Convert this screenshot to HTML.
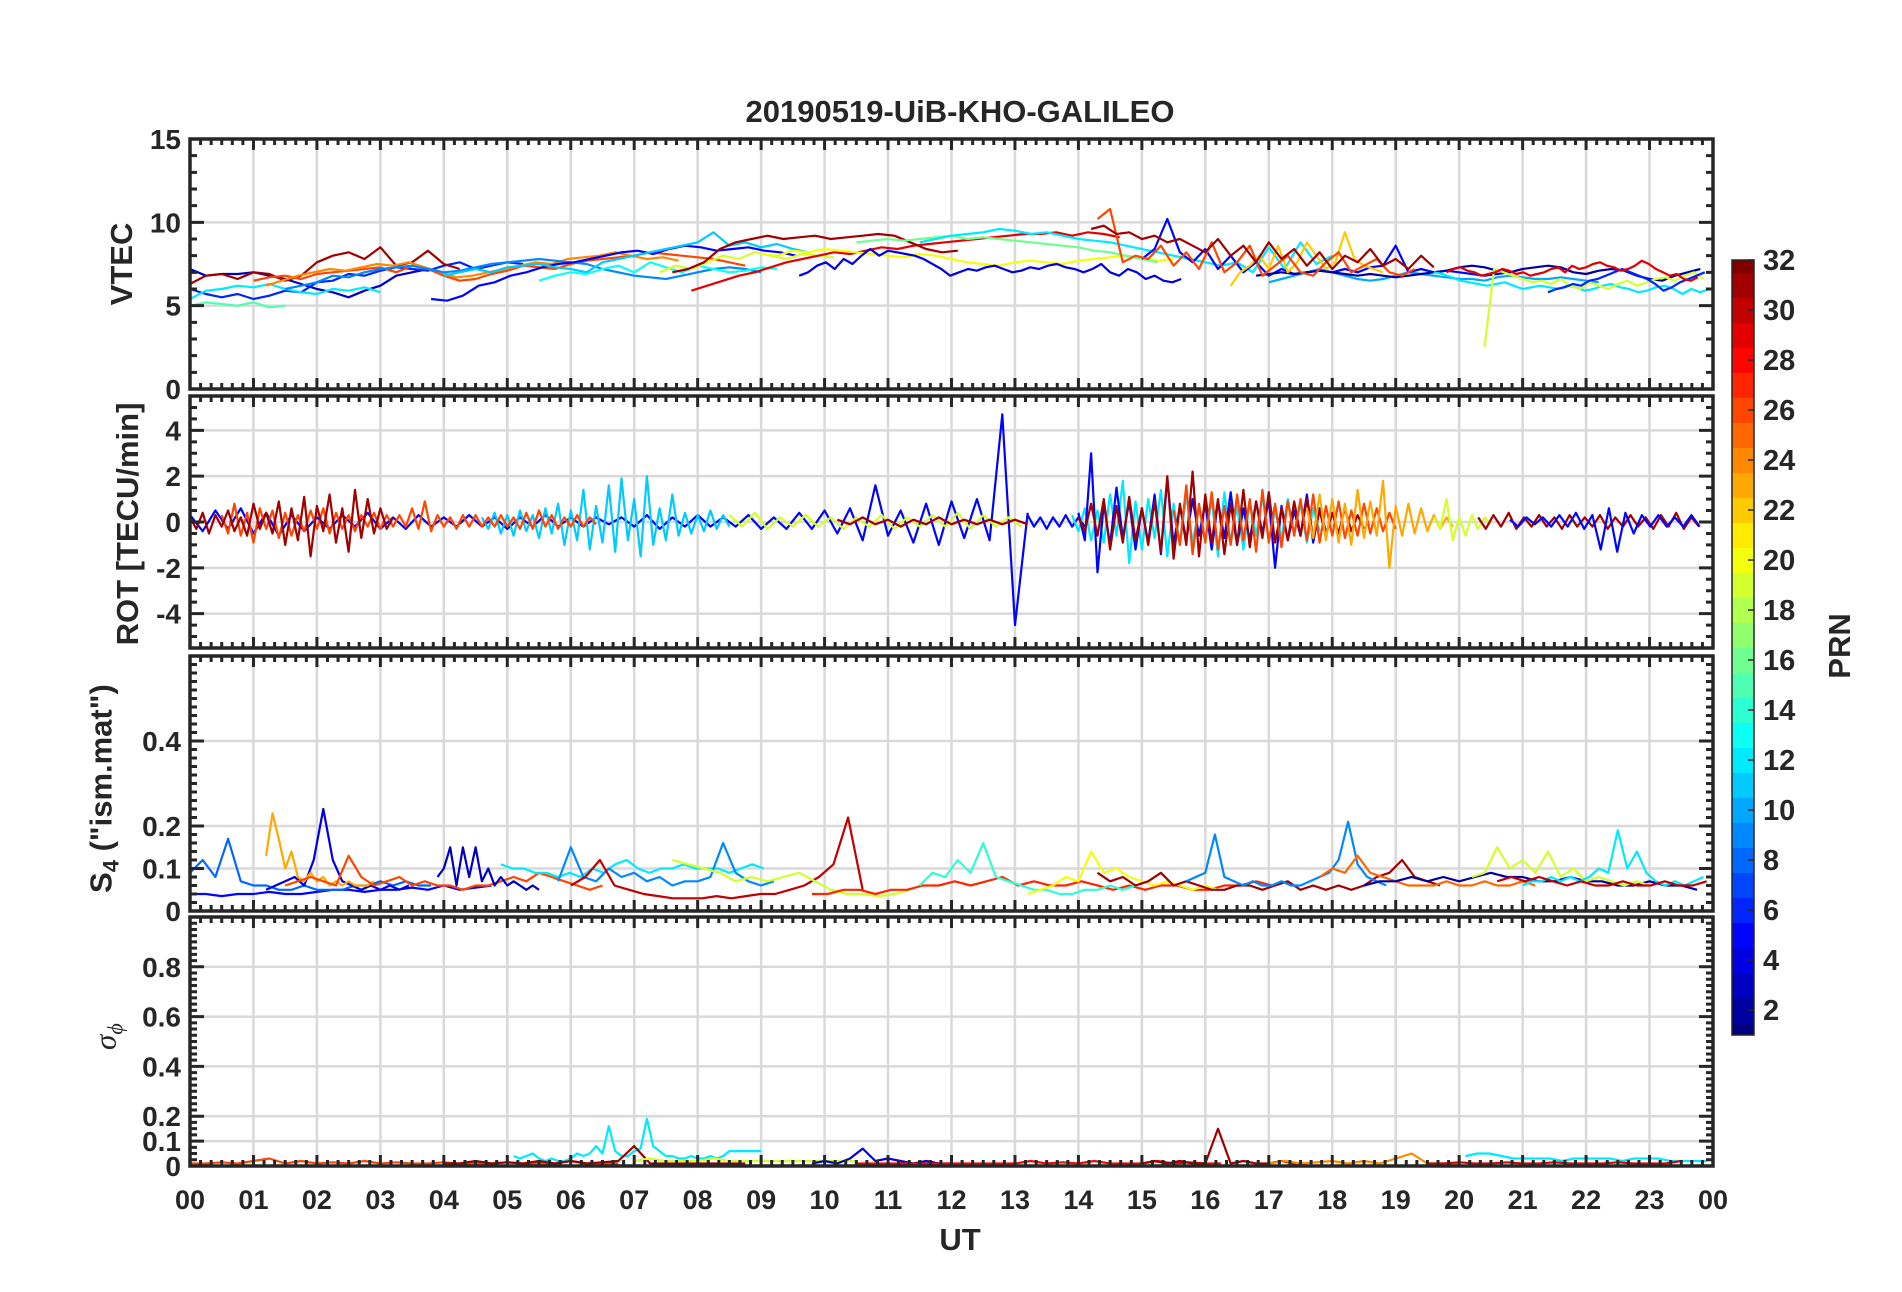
<!DOCTYPE html>
<html><head><meta charset="utf-8"><style>
html,body{margin:0;padding:0;background:#fff;}
svg{display:block;font-family:"Liberation Sans",sans-serif;font-weight:bold;}
</style></head><body>
<svg id="fig" width="1902" height="1292" viewBox="0 0 1902 1292"></svg>
<script>
// ---------- data ----------
const hourLabels = ["00","01","02","03","04","05","06","07","08","09","10","11","12","13","14","15","16","17","18","19","20","21","22","23","00"];
const vtecTicks = [0,5,10,15];
const rotTicks = [-4,-2,0,2,4];
const s4Ticks = [0,0.1,0.2,0.4];
const sigTicks = [0,0.1,0.2,0.4,0.6,0.8];
const cbTicks = [2,4,6,8,10,12,14,16,18,20,22,24,26,28,30,32];

const vtecSeries = [
{p:3,t0:0,dt:.25,v:[7.2,6.8,6.9,6.9,7.0,6.8,6.6,6.3,6.0,5.8,5.5,5.9,6.2,6.8,7.0,7.2]},
{p:6,t0:0,dt:.25,v:[6.0,5.7,5.5,5.7,5.4,5.6,5.9,5.8,6.4,6.5,6.9,6.8,7.1,7.3,7.2,7.1,7.4,7.6,7.2,7.4,7.6,7.5]},
{p:12,t0:0,dt:.25,v:[5.4,5.9,6.0,6.2,6.1,6.3,6.0,5.8,5.7,6.0,5.9,6.1,5.8]},
{p:15,t0:0,dt:.25,v:[5.0,5.2,5.1,5.0,5.2,4.9,5.0]},
{p:31,t0:0,dt:.25,v:[6.3,6.8,6.9,6.6,7.0,6.9,6.5,6.8,7.6,8.0,8.2,7.8,8.5,7.4,7.6,8.3,7.5,7.2]},
{p:26,t0:1.0,dt:.25,v:[6.5,6.7,6.8,6.6,6.9,7.0,7.1,7.2,7.3,7.0,7.4,7.2,6.8,6.5,6.6,6.9,7.1,7.4,7.3,7.2,7.5,7.7,7.8,7.9,8.0,8.2,8.1,8.0,7.9,7.8,7.6,7.4]},
{p:24,t0:1.2,dt:.25,v:[6.2,6.5,6.8,7.0,7.2,7.1,7.3,7.5,7.4,7.6,7.3,7.0,6.7,6.8,7.0,7.2,7.4,7.6,7.5,7.8,7.9,8.0,8.2,8.0,7.8,7.9,7.7]},
{p:9,t0:1.5,dt:.25,v:[6.0,6.2,6.4,6.8,6.7,7.0,7.2,7.3,7.4,7.2,7.0,7.1,7.3,7.5,7.6,7.7,7.8,7.7,7.6,7.5,7.2,7.0,6.8,6.7,6.6,6.8,7.0,7.2,7.3,7.2,7.0]},
{p:5,t0:3.8,dt:.25,v:[5.4,5.3,5.6,6.2,6.4,6.8,7.0,7.3,7.5,7.6,7.8,8.0,8.2,8.3,8.1,8.4,8.6,8.5,8.3,8.4,8.5,8.3,8.2,8.0]},
{p:11,t0:4.0,dt:.25,v:[6.8,7.0,7.2,7.0,7.3,7.4,7.5,7.3,7.2,7.0,7.6,7.8,8.0,8.2,8.4,8.6,8.8,9.4,8.6,8.8,8.5,8.7,8.4,8.2]},
{p:13,t0:5.5,dt:.25,v:[6.5,6.8,7.0,6.9,7.2,7.4,7.0,7.6,7.3,7.0,7.4,7.2,7.0,7.1,7.3,7.2]},
{p:19,t0:7.4,dt:.25,v:[7.0,7.4,7.2,7.6,8.0,7.8,8.2,8.0,7.8,8.1,8.0,7.9]},
{p:29,t0:7.9,dt:.25,v:[5.9,6.2,6.5,6.8,7.0,7.3,7.6,7.8,8.0,8.2,8.1,8.3,8.5,8.4,8.6,8.7,8.8,8.9,9.0,9.1,9.2,9.3,9.3,9.4,9.2,9.4,9.3,9.1]},
{p:31,t0:7.6,dt:.25,v:[7.0,7.2,7.6,8.4,8.8,9.0,9.2,9.0,9.1,9.2,9.0,9.1,9.2,9.3,9.2,8.8,8.4,8.2,8.3]},
{p:20,t0:9.0,dt:.25,v:[8.1,8.0,8.3,8.2,8.4,8.3,8.2,8.1,8.0,7.9,8.1,8.0,7.8,7.6,7.5,7.4,7.6,7.7,7.6,7.5,7.7,7.8,7.9,8.0,7.9,7.7,7.8]},
{p:4,t0:9.6,dt:.14,v:[6.8,7.0,7.4,7.6,7.2,7.8,7.5,8.0,8.4,8.0,8.3,8.2,8.1,8.0,7.8,7.5,7.2,6.8,7.0,7.2,7.1,7.3,7.4,7.2,7.0,7.1,7.3,7.2,7.4,7.5,7.3,7.2,7.0,7.2,7.5,7.0,6.8,7.2,7.0,6.6,6.8,6.5,6.4,6.6]},
{p:16,t0:10.5,dt:.25,v:[8.8,8.9,9.0,8.9,9.0,9.1,9.2,9.0,9.1,9.0,8.9,8.8,8.7,8.6,8.5,8.3,8.2,8.0,7.8,7.6]},
{p:12,t0:11.5,dt:.25,v:[8.8,9.0,9.2,9.3,9.4,9.6,9.5,9.3,9.4,9.2,9.0,8.9,8.8,8.6,8.4,8.2,8.0,7.8,7.6,7.4,7.6,7.0,8.5,7.2,8.8,7.5,8.0]},
{p:10,t0:17.0,dt:.2,v:[6.4,6.6,6.8,7.0,7.2,7.0,6.8,6.6,6.5,6.6,6.8,7.0,6.9,6.8,6.7,6.6,6.6,6.5,6.7,6.8,6.7,6.6,6.6,6.7,6.6,6.5,6.4]},
{p:5,t0:15.0,dt:.2,v:[7.8,8.4,10.2,8.2,7.6,8.4,7.2,8.0,7.0,7.6,6.8,7.2,6.9,7.0,7.1,7.0,7.2,7.0,7.3,7.4,8.6,7.0,7.2,7.0,7.1,7.0,6.9,6.8,6.9,7.0]},
{p:2,t0:16.8,dt:.2,v:[6.8,6.9,7.0,6.9,7.0,7.1,7.0,6.9,6.8,6.9,6.8,6.7,6.8,6.9,7.0,7.1,7.3,7.4,7.3,7.1,7.0,7.2,7.3,7.4,7.3,7.0,6.9,7.1,7.2,7.1,6.8,6.6,6.5,6.8,7.0,7.2]},
{p:22,t0:16.4,dt:.15,v:[6.2,7.0,7.4,8.0,7.2,8.6,7.0,7.6,8.8,8.0,7.2,7.6,9.4,7.8,7.4,7.2,7.0]},
{p:26,t0:14.3,dt:.2,v:[10.2,10.8,7.6,8.0,7.8,8.6,7.4,8.2,7.2,8.8,7.0,7.6,8.6,6.8,7.4,8.0,7.0,6.8,7.6,8.2,7.0,7.4,7.8,7.0,6.8,7.2]},
{p:31,t0:14.2,dt:.2,v:[9.6,9.8,9.3,9.4,9.0,9.2,8.8,9.0,8.6,8.2,9.0,8.0,8.6,7.6,8.8,7.8,8.4,7.4,8.2,7.2,8.0,7.6,8.4,7.4,7.8,7.2,8.0,7.3]},
{p:12,t0:19.6,dt:.14,v:[7.0,6.9,6.7,6.5,6.4,6.3,6.2,6.3,6.4,6.2,6.0,6.1,6.2,6.1,6.0,6.2,6.1,5.9,6.0,6.2,6.3,6.1,6.0,5.8,5.9,6.1,6.2,6.0,5.7,6.0,5.8,6.0]},
{p:19,t0:20.4,dt:.15,v:[2.5,7.2,7.0,6.8,6.6,6.4,6.5,6.3,6.6,6.2,6.0,6.4,6.2,6.0,6.3,6.5,6.2,6.4,6.6,6.7,6.5,6.8,7.0,6.6]},
{p:6,t0:21.4,dt:.13,v:[5.8,6.0,6.1,6.3,6.2,6.5,6.6,6.8,7.0,7.2,7.0,6.8,6.6,6.3,5.9,6.1,6.4,6.6,6.8,7.0]},
{p:29,t0:19.8,dt:.11,v:[7.0,7.2,7.3,7.1,7.0,6.8,6.9,7.0,7.2,7.1,6.9,7.0,6.8,6.9,7.0,7.2,7.3,7.0,7.4,7.2,7.3,7.5,7.6,7.4,7.3,7.1,7.2,7.4,7.7,7.5,7.2,7.0,6.8,6.9,6.6,6.5,6.7]}
];

const rotSeries = [
{p:5,t0:0,dt:.2,v:[0.3,-0.4,0.5,-0.3,0.6,-0.5,0.4,-0.6,0.3,-0.4,0.2,-0.3,0.3,-0.2,0.4,-0.3,0.2,-0.3,0.3,-0.2,0.2,-0.2,0.3,-0.2,0.2,-0.3,0.2,-0.2,0.3,-0.2,0.2,-0.2,0.2,-0.1,0.2,-0.2,0.3,-0.3,0.2,-0.2,0.3,-0.2,0.2,-0.2,0.3,-0.3,0.2,-0.3,0.4,-0.3,0.5,-0.5,0.6,-0.8,1.6,-0.6,0.5,-0.9,0.8,-1.0,0.9,-0.7,1.0,-0.8,4.7,-4.5,0.4]},
{p:5,t0:13.2,dt:.1,v:[0.3,-0.2,0.2,-0.3,0.2,-0.2,0.3,-0.2,0.2,-0.2]},
{p:11,t0:4.6,dt:.1,v:[0.2,-0.3,0.4,-0.5,0.3,-0.6,0.5,-0.4,0.3,-0.7,0.6,-0.5,0.8,-1.0,0.5,-0.8,1.4,-1.2,0.7,-0.9,1.6,-1.3,1.9,-0.8,1.0,-1.5,2.0,-1.0,0.6,-0.8,1.2,-0.6,0.4,-0.5,0.3,-0.4,0.5,-0.3,0.3,-0.2]},
{p:26,t0:0.5,dt:.1,v:[0.3,-0.5,0.8,-0.6,0.4,-0.9,0.6,-0.3,0.5,-0.7,0.4,-0.6,0.3,-0.4,0.5,-0.3,0.6,-0.5,0.4,-0.3,0.3,-0.4,0.3,-0.2,0.4,-0.3,0.3,-0.2,0.3,-0.2,0.6,-0.3,0.9,-0.4,0.3,-0.2,0.2,-0.3,0.3,-0.2,0.3,-0.2,0.2,-0.2,0.3,-0.2,0.2,-0.3,0.4,-0.3,0.5,-0.2,0.3,-0.3,0.2,-0.2,0.3,-0.2,0.2,-0.1]},
{p:31,t0:0,dt:.1,v:[0.2,-0.3,0.4,-0.5,0.3,-0.2,0.5,-0.4,0.2,-0.6,0.8,-0.3,0.4,-0.5,0.9,-1.0,0.6,-0.8,1.1,-1.5,0.7,-0.4,1.2,-0.9,0.6,-1.3,1.4,-0.7,1.0,-0.5,0.6,-0.3,0.2]},
{p:19,t0:8.5,dt:.2,v:[0.3,-0.2,0.4,-0.3,0.2,-0.2,0.3,-0.2,0.2,-0.3,0.2,-0.2,0.3,-0.3,0.2,-0.2,0.3,-0.2,0.4,-0.3,0.3,-0.2,0.2,-0.2]},
{p:31,t0:10.2,dt:.2,v:[0.1,-0.1,0.2,-0.1,0.1,-0.2,0.1,-0.1,0.2,-0.1,0.1,-0.1,0.1,-0.1,0.1,-0.1]},
{p:12,t0:13.9,dt:.1,v:[0.3,-0.4,0.6,-0.8,0.5,-0.9,1.2,-0.6,1.8,-1.8,0.9,-1.2,1.0,-0.7,1.4,-1.5,0.8,-1.0,1.2,-0.9,0.6,-0.8,1.0,-1.5,1.3,-0.9,0.7,-1.2,0.9,-0.6,1.1,-0.8,0.5,-0.7,1.0,-0.5,0.8,-0.9,0.6,-0.4]},
{p:5,t0:14.0,dt:.1,v:[0.4,-0.8,3.0,-2.2,0.8,-1.0,1.5,-0.7,0.9,-1.2,0.6,-0.9,1.2,-1.4,1.9,-1.0,0.7,-0.8,1.0,-0.6,0.8,-1.2,0.9,-0.7,1.3,-1.0,0.6,-0.8,0.9,-0.5,1.0,-2.0,0.7,-0.8,0.5,-0.6,1.2,-0.9,0.6,-0.4]},
{p:31,t0:14.0,dt:.1,v:[0.2,-0.4,0.8,-0.6,1.0,-1.2,0.7,-0.9,1.1,-0.8,0.6,-1.0,0.9,-1.3,2.0,-1.6,0.8,-1.0,2.2,-1.5,1.2,-0.9,1.0,-1.4,0.8,-1.0,1.4,-1.1,0.9,-0.7,1.3,-0.9,0.6,-0.8,0.9,-0.6,1.0,-0.7,0.5,-0.6,0.4,-0.5,0.6,-0.4,0.3,-0.3]},
{p:26,t0:15.5,dt:.1,v:[0.5,-1.0,1.6,-1.4,0.8,-0.9,1.3,-1.2,0.7,-1.0,1.2,-0.8,1.0,-1.3,1.4,-0.9,0.8,-1.1,0.9,-0.6,1.0,-0.8,1.2,-0.9,0.7,-0.6,0.9,-0.7,0.5,-0.6,0.8,-0.5,0.6,-0.4,0.4,-0.3]},
{p:23,t0:17.6,dt:.1,v:[0.6,-0.7,1.2,-0.8,1.0,-0.9,0.8,-1.0,1.4,-0.7,0.9,-0.6,1.8,-2.0,0.7,-0.6,0.8,-0.5,0.6,-0.4,0.3,-0.3,0.2,-0.2]},
{p:19,t0:19.6,dt:.1,v:[0.2,-0.3,1.0,-0.8,0.2,-0.6,0.3,-0.3,0.2,-0.1]},
{p:31,t0:20.3,dt:.12,v:[0.2,-0.3,0.3,-0.2,0.4,-0.3,0.2,-0.2,0.3,-0.2,0.2,-0.3,0.3,-0.2,0.2,-0.2,0.3,-0.3,0.2,-0.2,0.3,-0.2,0.2,-0.3,0.3,-0.2,0.4,-0.3,0.2,-0.2]},
{p:5,t0:20.8,dt:.13,v:[0.1,-0.2,0.2,-0.1,0.2,-0.2,0.3,-0.2,0.4,-0.3,0.3,-1.2,0.6,-1.3,0.4,-0.5,0.3,-0.2,0.3,-0.2,0.2,-0.2,0.3,-0.2]}
];

const s4Series = [
{p:5,t0:0,dt:.25,v:[0.04,0.04,0.035,0.04,0.04,0.045,0.04,0.04,0.045,0.05,0.05,0.045,0.05,0.05,0.055,0.05,0.06,0.05,0.055,0.06]},
{p:8,t0:0,dt:.2,v:[0.09,0.12,0.08,0.17,0.07,0.06,0.06,0.05,0.05,0.06,0.05,0.05,0.05,0.06,0.06,0.07,0.06,0.07,0.06,0.06]},
{p:4,t0:1.2,dt:.15,v:[0.05,0.06,0.07,0.08,0.06,0.12,0.24,0.12,0.07,0.06,0.05,0.06,0.05,0.06,0.05,0.06]},
{p:23,t0:1.2,dt:.1,v:[0.13,0.23,0.17,0.1,0.14,0.08,0.07,0.09,0.07,0.08,0.06,0.07,0.06,0.07,0.06,0.06,0.06,0.07]},
{p:26,t0:1.5,dt:.2,v:[0.06,0.07,0.08,0.07,0.06,0.13,0.08,0.06,0.07,0.08,0.06,0.07,0.06,0.06,0.05,0.06,0.06,0.07,0.08,0.07,0.09,0.08,0.07,0.06,0.05,0.06]},
{p:3,t0:3.9,dt:.1,v:[0.08,0.1,0.15,0.06,0.15,0.08,0.15,0.07,0.1,0.06,0.08,0.06,0.07,0.06,0.05,0.06,0.05]},
{p:12,t0:4.9,dt:.18,v:[0.11,0.1,0.1,0.09,0.09,0.08,0.09,0.08,0.1,0.09,0.11,0.12,0.1,0.09,0.1,0.1,0.11,0.1,0.1,0.1,0.09,0.1,0.11,0.1]},
{p:9,t0:5.8,dt:.2,v:[0.07,0.15,0.08,0.07,0.1,0.08,0.09,0.07,0.08,0.06,0.07,0.07,0.08,0.16,0.09,0.07,0.06,0.07]},
{p:30,t0:6.0,dt:.23,v:[0.06,0.08,0.12,0.06,0.05,0.04,0.035,0.03,0.03,0.03,0.035,0.03,0.035,0.04,0.04,0.05,0.06,0.08,0.11,0.22,0.05]},
{p:19,t0:7.6,dt:.25,v:[0.12,0.11,0.1,0.09,0.07,0.08,0.07,0.08,0.09,0.07,0.05,0.04,0.04,0.035,0.04,0.05]},
{p:27,t0:9.8,dt:.25,v:[0.04,0.04,0.05,0.05,0.04,0.05,0.05,0.06,0.06,0.07,0.06,0.07,0.08,0.06,0.07,0.06,0.06,0.07,0.06,0.05,0.06,0.05,0.06,0.06,0.05,0.05,0.06,0.06,0.07,0.06]},
{p:14,t0:11.5,dt:.2,v:[0.06,0.09,0.08,0.12,0.09,0.16,0.08,0.07,0.06,0.05,0.05,0.04,0.04,0.05,0.05,0.06,0.05,0.06]},
{p:20,t0:13.2,dt:.2,v:[0.04,0.05,0.06,0.08,0.07,0.14,0.09,0.1,0.08,0.07,0.06,0.07,0.06,0.05,0.06,0.05]},
{p:31,t0:14.3,dt:.2,v:[0.09,0.07,0.08,0.06,0.07,0.09,0.06,0.07,0.06,0.05,0.05,0.06,0.06,0.05,0.06,0.07,0.05,0.06,0.05,0.06,0.05,0.06,0.08,0.09,0.12,0.08,0.07,0.06]},
{p:9,t0:15.7,dt:.15,v:[0.07,0.08,0.09,0.18,0.08,0.07,0.06,0.07,0.06,0.06,0.07,0.06,0.06,0.07,0.08,0.09,0.12,0.21,0.11,0.08,0.07,0.06]},
{p:25,t0:17.8,dt:.2,v:[0.08,0.1,0.09,0.13,0.09,0.08,0.07,0.06,0.06,0.06,0.07,0.06,0.06,0.07,0.06,0.06,0.07,0.06]},
{p:2,t0:18.5,dt:.25,v:[0.06,0.07,0.07,0.08,0.07,0.08,0.07,0.08,0.09,0.08,0.08,0.07,0.07,0.08,0.07,0.07,0.06,0.06,0.07,0.06,0.06,0.05]},
{p:19,t0:20.2,dt:.2,v:[0.08,0.09,0.15,0.1,0.12,0.09,0.14,0.08,0.1,0.07,0.08,0.07,0.06,0.07,0.06]},
{p:12,t0:21.0,dt:.15,v:[0.06,0.07,0.07,0.08,0.07,0.08,0.07,0.08,0.1,0.09,0.19,0.1,0.14,0.09,0.07,0.06,0.07,0.06,0.07,0.08]},
{p:30,t0:20.6,dt:.22,v:[0.07,0.08,0.07,0.08,0.07,0.06,0.07,0.06,0.06,0.07,0.06,0.06,0.07,0.06,0.06,0.07]}
];

const sigSeries = [
{p:26,t0:0,dt:.25,v:[0.01,0.01,0.015,0.01,0.02,0.03,0.01,0.02,0.01,0.015,0.01,0.02,0.01,0.015,0.01,0.01,0.015,0.01,0.01,0.01,0.015,0.01,0.01,0.01,0.02,0.01,0.01,0.01]},
{p:12,t0:5.1,dt:.1,v:[0.04,0.03,0.04,0.05,0.03,0.02,0.03,0.02,0.02,0.03,0.05,0.04,0.05,0.08,0.05,0.16,0.06,0.04,0.04,0.06,0.07,0.19,0.08,0.06,0.04,0.04,0.03,0.03,0.04,0.03,0.03,0.04,0.03,0.04,0.06,0.06,0.06,0.06,0.06,0.06]},
{p:31,t0:4.0,dt:.25,v:[0.01,0.01,0.02,0.01,0.015,0.01,0.02,0.01,0.02,0.01,0.015,0.02,0.08,0.01,0.01,0.01,0.01,0.01,0.01,0.01]},
{p:19,t0:7.0,dt:.25,v:[0.02,0.03,0.02,0.02,0.02,0.03,0.02,0.02,0.02,0.02,0.02,0.02,0.02,0.02,0.02]},
{p:4,t0:9.8,dt:.2,v:[0.01,0.02,0.01,0.03,0.07,0.02,0.03,0.02,0.01,0.02,0.01,0.01]},
{p:28,t0:10.5,dt:.25,v:[0.01,0.01,0.01,0.01,0.01,0.01,0.01,0.01,0.01,0.01,0.01,0.02,0.01,0.015,0.01,0.02,0.01,0.01,0.01,0.02,0.01,0.015,0.01,0.01]},
{p:31,t0:15.0,dt:.2,v:[0.01,0.02,0.01,0.02,0.01,0.01,0.15,0.01,0.02,0.01,0.01,0.02,0.01,0.01]},
{p:24,t0:17.0,dt:.25,v:[0.01,0.02,0.01,0.015,0.02,0.01,0.02,0.01,0.03,0.05,0.01,0.01,0.01]},
{p:12,t0:20.1,dt:.19,v:[0.04,0.05,0.05,0.04,0.03,0.03,0.03,0.03,0.02,0.03,0.03,0.03,0.03,0.02,0.03,0.03,0.03,0.02,0.02,0.02,0.02]},
{p:29,t0:19.5,dt:.25,v:[0.01,0.01,0.015,0.01,0.01,0.015,0.01,0.01,0.015,0.01,0.01,0.01,0.015,0.01,0.01,0.01,0.02]}
];

// ---------- layout ----------
const X0=190, X1=1713;
const panels = [
 {name:"vtec", top:139, bot:389, min:0, max:15, ticks:vtecTicks, minor:1, series:vtecSeries, fmt:v=>String(v)},
 {name:"rot", top:396, bot:648, min:-5.5, max:5.5, ticks:rotTicks, minor:0.5, series:rotSeries, fmt:v=>String(v)},
 {name:"s4", top:656, bot:911, min:0, max:0.6, ticks:s4Ticks, minor:0.02, series:s4Series, fmt:v=>v===0?"0":String(v)},
 {name:"sigma", top:917, bot:1166, min:0, max:1, ticks:sigTicks, minor:0.025, series:sigSeries, fmt:v=>v===0?"0":String(v)}
];
const NS="http://www.w3.org/2000/svg";
const svg=document.getElementById('fig');
function mk(tag,attrs,parent){const e=document.createElementNS(NS,tag);for(const k in attrs)e.setAttribute(k,attrs[k]);(parent||svg).appendChild(e);return e;}
function xs(t){return X0+t*(X1-X0)/24;}
function jet(p){
 const v=(p-1)/31;
 const r=Math.min(1,Math.max(0,Math.min(4*v-1.5,-4*v+4.5)));
 const g=Math.min(1,Math.max(0,Math.min(4*v-0.5,-4*v+3.5)));
 const b=Math.min(1,Math.max(0,Math.min(4*v+0.5,-4*v+2.5)));
 return `rgb(${Math.round(r*255)},${Math.round(g*255)},${Math.round(b*255)})`;
}
const defs=mk('defs',{});

panels.forEach(P=>{
 const ys=v=>P.bot-(v-P.min)/(P.max-P.min)*(P.bot-P.top);
 const cp=mk('clipPath',{id:'clip-'+P.name},defs);
 mk('rect',{x:X0,y:P.top,width:X1-X0,height:P.bot-P.top},cp);
 const g=mk('g',{});
 
 
 for(let h=1;h<24;h++){
  const l=mk('line',{x1:xs(h),x2:xs(h),y1:P.top,y2:P.bot,stroke:'#d9d9d9','stroke-width':2.5},g);
  
  
 }
 P.ticks.forEach(v=>{
  if(v<=P.min||v>=P.max)return;
  const l=mk('line',{x1:X0,x2:X1,y1:ys(v),y2:ys(v),stroke:'#d9d9d9','stroke-width':2.5},g);
  
  
 });
 const sg=mk('g',{fill:'none','stroke-width':2.2,'stroke-linejoin':'round','clip-path':'url(#clip-'+P.name+')'},g);
 
 
 P.series.forEach(s=>{
  const pts=s.v.map((v,i)=>xs(s.t0+i*s.dt).toFixed(1)+','+ys(v).toFixed(1)).join(' ');
  const pl=mk('polyline',{points:pts,stroke:jet(s.p)},sg);
  
  
 });
 let d='';
 for(let m=0;m<=144;m++){
  const x=xs(m/6); const L=(m%6===0)?11:6;
  d+=`M${x},${P.bot}v${-L}M${x},${P.top}v${L}`;
 }
 const nMin=Math.round((P.max-P.min)/P.minor);
 for(let k=0;k<=nMin;k++){
  const v=P.min+k*P.minor; const y=ys(v);
  const major=P.ticks.some(t=>Math.abs(t-v)<1e-9);
  const L=major?14:7;
  d+=`M${X0},${y}h${L}M${X1},${y}h${-L}`;
 }
 const tk=mk('path',{d:d,stroke:'#262626','stroke-width':3,fill:'none'},g);
 
 
 const bx=mk('rect',{x:X0,y:P.top,width:X1-X0,height:P.bot-P.top,fill:'none',stroke:'#262626','stroke-width':3.5},g);
 
 
 P.ticks.forEach(v=>{
  const t=mk('text',{x:X0-9,y:ys(v)+10,'text-anchor':'end','font-size':28,fill:'#262626'},g);
  t.textContent=P.fmt(v);
  
  
 });
});

hourLabels.forEach((lab,i)=>{
 const t=mk('text',{x:xs(i),y:1209,'text-anchor':'middle','font-size':27,fill:'#262626'});
 t.textContent=lab;
 
 
});

const CB={x:1732,w:22,top:260,bot:1035,min:1,max:32};
const cbY=v=>CB.bot-(v-CB.min)/(CB.max-CB.min)*(CB.bot-CB.top);
for(let p=1;p<=32;p++){
 const y1=cbY(Math.max(p-0.5,1)), y2=cbY(Math.min(p+0.5,32));
 const r=mk('rect',{x:CB.x,y:y2,width:CB.w,height:y1-y2+0.5,fill:jet(p)});
 
 
}
const cbb=mk('rect',{x:CB.x,y:CB.top,width:CB.w,height:CB.bot-CB.top,fill:'none',stroke:'#262626','stroke-width':1.5});


cbTicks.forEach(v=>{
 const l=mk('line',{x1:CB.x+CB.w-6,x2:CB.x+CB.w,y1:cbY(v),y2:cbY(v),stroke:'#262626','stroke-width':1.5});
 
 
 const t=mk('text',{x:1763,y:cbY(v)+10,'font-size':29,fill:'#262626'});
 t.textContent=String(v);
 
 
});
</script>
<div style="position:absolute;left:0;top:0;width:1902px;height:1292px;pointer-events:none;font-family:'Liberation Sans',sans-serif;font-weight:bold;color:#262626;">
 <div style="position:absolute;left:560px;top:94px;width:800px;text-align:center;font-size:31px;">20190519-UiB-KHO-GALILEO</div>
 <div style="position:absolute;left:900px;top:1222px;width:120px;text-align:center;font-size:31px;">UT</div>
 <div style="position:absolute;left:22px;top:246px;width:200px;text-align:center;font-size:31px;transform:rotate(-90deg);">VTEC</div>
 <div style="position:absolute;left:-22px;top:506px;width:300px;text-align:center;font-size:31px;transform:rotate(-90deg);">ROT [TECU/min]</div>
 <div style="position:absolute;left:-46px;top:768px;width:300px;text-align:center;font-size:31px;transform:rotate(-90deg);">S<sub style="font-size:22px">4</sub> ("ism.mat")</div>
 <div style="position:absolute;left:58px;top:1016px;width:100px;text-align:center;font-size:31px;font-weight:normal;font-style:italic;font-family:'Liberation Serif',serif;transform:rotate(-90deg);">σ<sub style="font-size:22px">ϕ</sub></div>
 <div style="position:absolute;left:1790px;top:628px;width:100px;text-align:center;font-size:31px;transform:rotate(-90deg);">PRN</div>
</div>
</body></html>
